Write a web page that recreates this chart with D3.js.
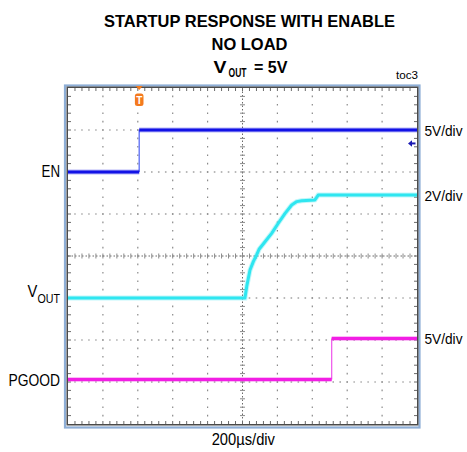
<!DOCTYPE html>
<html><head><meta charset="utf-8">
<script src="https://cdn.jsdelivr.net/npm/d3@7"></script>
<style>
body{margin:0;background:#fff}
svg{display:block}
text{font-family:"Liberation Sans",Arial,Helvetica,sans-serif;fill:#000}
</style>
</head><body>
<svg id="c" width="467" height="452"></svg>
<script>
// ---------------- data ----------------
const titleLines = ["STARTUP RESPONSE WITH ENABLE", "NO LOAD"];
const timeLabel = "200µs/div";
const timePerDiv = 200;          // µs per division
const xDivs = 10, yDivs = 8;
const triggerTime = 408;         // µs from left edge

const channelNames = ["EN", "V", "PGOOD"];
const channelSubs  = ["", "OUT", ""];
const scaleLabels  = ["5V/div", "2V/div", "5V/div"];
const voltsPerDiv  = [5, 2, 5];
const groundDiv    = [6, 3, 1.06];   // ground position of each channel (div from bottom)
const enTriggerLevel = 3.4;          // V

const enTime   = [0, 408, 408, 2000];
const enVolts  = [0, 0, 5, 5];
const voutTime  = [0, 1014, 1024, 1043, 1062, 1081, 1095, 1129, 1167, 1205, 1244, 1282, 1311, 1339, 1415, 1434, 2000];
const voutVolts = [0, 0, 0.54, 1.33, 1.73, 2.05, 2.32, 2.68, 3.08, 3.56, 4.03, 4.43, 4.59, 4.63, 4.67, 4.90, 4.90];
const pgoodTime  = [0, 1511, 1511, 2000];
const pgoodVolts = [0, 0, 4.88, 4.88];

// ---------------- layout ----------------
const svg = d3.select("#c");
const X0 = 68, X1 = 417, Y0 = 88, Y1 = 424;
const x  = d3.scaleLinear().domain([0, xDivs * timePerDiv]).range([X0, X1]);
const xd = d3.scaleLinear().domain([0, xDivs]).range([X0, X1]);
const yd = d3.scaleLinear().domain([0, yDivs]).range([Y1, Y0]);
const colors = ["#1212e6", "#2fe6f0", "#f21ee4"];
const stepColors = ["#5a6cf5", "#2fe6f0", "#f060ec"];

// title
const titleCx = 249.5;
const tl = svg.append("g").style("font-weight", "bold").style("font-size", "16.5px");
tl.append("text").attr("x", titleCx).attr("y", 27).attr("text-anchor", "middle")
  .attr("textLength", 291).attr("lengthAdjust", "spacingAndGlyphs").text(titleLines[0]);
tl.append("text").attr("x", titleCx).attr("y", 50).attr("text-anchor", "middle")
  .attr("textLength", 76).attr("lengthAdjust", "spacingAndGlyphs").text(titleLines[1]);
tl.append("text").attr("x", 213.5).attr("y", 73)
  .attr("textLength", 13).attr("lengthAdjust", "spacingAndGlyphs").text("V");
tl.append("text").attr("x", 228.5).attr("y", 77).style("font-size", "12px")
  .attr("textLength", 18).attr("lengthAdjust", "spacingAndGlyphs").text("OUT");
tl.append("text").attr("x", 254).attr("y", 73)
  .attr("textLength", 33.5).attr("lengthAdjust", "spacingAndGlyphs").text("= 5V");
svg.append("text").attr("x", 418).attr("y", 79).attr("text-anchor", "end")
  .style("font-size", "11px").attr("textLength", 22).attr("lengthAdjust", "spacingAndGlyphs").text("toc3");

// frame
svg.append("rect").attr("x", 65).attr("y", 85.5).attr("width", 354.5).attr("height", 342)
  .attr("fill", "none").attr("stroke", "#8eaed6").attr("stroke-width", 2.2);
svg.append("rect").attr("x", X0 - 0.75).attr("y", Y0 - 0.75).attr("width", X1 - X0 + 1.5).attr("height", Y1 - Y0 + 1.5)
  .attr("fill", "#fff").attr("stroke", "#4a4a4a").attr("stroke-width", 1.5);

const grid = svg.append("g");
const minorX = d3.range(0, xDivs * 5 + 1).map(i => i / 5);
const minorY = d3.range(0, yDivs * 5 + 1).map(i => i / 5);
const dotLen = 1.6;

// dotted major grid lines (dots at minor positions)
d3.range(1, xDivs).filter(i => i !== xDivs / 2).forEach(i => {
  grid.selectAll(null).data(minorY.slice(1, -1)).join("line")
    .attr("x1", xd(i)).attr("x2", xd(i))
    .attr("y1", d => yd(d) - dotLen / 2).attr("y2", d => yd(d) + dotLen / 2)
    .attr("stroke", "#8a8a8a").attr("stroke-width", 1.2);
});
d3.range(1, yDivs).filter(i => i !== yDivs / 2).forEach(i => {
  grid.selectAll(null).data(minorX.slice(1, -1)).join("line")
    .attr("y1", yd(i)).attr("y2", yd(i))
    .attr("x1", d => xd(d) - dotLen / 2).attr("x2", d => xd(d) + dotLen / 2)
    .attr("stroke", "#8a8a8a").attr("stroke-width", 1.2);
});

// center axes with minor ticks
const cx = xd(xDivs / 2), cy = yd(yDivs / 2);
grid.append("line").attr("x1", X0).attr("x2", X1).attr("y1", cy).attr("y2", cy)
  .attr("stroke", "#6a6a6a").attr("stroke-width", 1).attr("stroke-dasharray", "1.5,2");
grid.append("line").attr("y1", Y0).attr("y2", Y1).attr("x1", cx).attr("x2", cx)
  .attr("stroke", "#6a6a6a").attr("stroke-width", 1).attr("stroke-dasharray", "1.5,2");
grid.selectAll(null).data(minorX.slice(1, -1)).join("line")
  .attr("x1", d => xd(d)).attr("x2", d => xd(d)).attr("y1", cy - 2.5).attr("y2", cy + 2.5)
  .attr("stroke", "#8a8a8a").attr("stroke-width", 1);
grid.selectAll(null).data(minorY.slice(1, -1)).join("line")
  .attr("y1", d => yd(d)).attr("y2", d => yd(d)).attr("x1", cx - 2.5).attr("x2", cx + 2.5)
  .attr("stroke", "#8a8a8a").attr("stroke-width", 1);

// edge ticks
[[Y0, 1], [Y1, -1]].forEach(([yy, s]) => {
  grid.selectAll(null).data(minorX.slice(1, -1)).join("line")
    .attr("x1", d => xd(d)).attr("x2", d => xd(d)).attr("y1", yy).attr("y2", yy + s * 3)
    .attr("stroke", "#6a6a6a").attr("stroke-width", 1);
});
[[X0, 1], [X1, -1]].forEach(([xx, s]) => {
  grid.selectAll(null).data(minorY.slice(1, -1)).join("line")
    .attr("y1", d => yd(d)).attr("y2", d => yd(d)).attr("x1", xx).attr("x2", xx + s * 3)
    .attr("stroke", "#6a6a6a").attr("stroke-width", 1);
});

// traces
const series = [[enTime, enVolts], [voutTime, voutVolts], [pgoodTime, pgoodVolts]];
const yOf = (ch, v) => yd(groundDiv[ch] + v / voltsPerDiv[ch]);
const traces = svg.append("g");
series.forEach(([ts, vs], ch) => {
  const pts = ts.map((t, i) => ({ t, v: vs[i] }));
  const runs = [[pts[0]]], steps = [];
  for (let i = 1; i < pts.length; i++) {
    if (pts[i].t === pts[i - 1].t) { steps.push([pts[i - 1], pts[i]]); runs.push([pts[i]]); }
    else runs[runs.length - 1].push(pts[i]);
  }
  const line = d3.line().x(d => x(d.t)).y(d => yOf(ch, d.v));
  steps.forEach(s => {
    traces.append("path").attr("d", line(s)).attr("fill", "none")
      .attr("stroke", stepColors[ch]).attr("stroke-width", 1.3);
  });
  runs.filter(r => r.length > 1).forEach(r => {
    traces.append("path").attr("d", line(r)).attr("fill", "none")
      .attr("stroke", colors[ch]).attr("stroke-width", 5).attr("stroke-opacity", 0.3);
    traces.append("path").attr("d", line(r)).attr("fill", "none")
      .attr("stroke", colors[ch]).attr("stroke-width", 3).attr("stroke-linejoin", "round");
  });
});

// trigger marker (top)
const tx = x(triggerTime);
const trig = svg.append("g");
trig.append("path").attr("d", `M${tx - 3.5},${Y0 - 2}L${tx + 3.5},${Y0 - 2}L${tx},${Y0 + 2}Z`).attr("fill", "#f47a1e");
trig.append("rect").attr("x", tx - 4.3).attr("y", 93.5).attr("width", 8.6).attr("height", 12.5).attr("rx", 2.5)
  .attr("fill", "#f47a1e");
trig.append("text").attr("x", tx).attr("y", 103.5).attr("text-anchor", "middle")
  .style("font-size", "10px").style("font-weight", "bold").style("fill", "#fff").text("T");

// trigger level arrow (right)
const ty = yOf(0, enTriggerLevel);
const arr = svg.append("g").attr("fill", "#1a1ab4").attr("stroke", "#1a1ab4");
arr.append("line").attr("x1", X1 - 6).attr("x2", X1 - 1.5).attr("y1", ty).attr("y2", ty).attr("stroke-width", 2);
arr.append("path").attr("d", `M${X1 - 9},${ty}L${X1 - 5},${ty - 3.3}L${X1 - 5},${ty + 3.3}Z`).attr("stroke", "none");

// channel labels (left)
const lab = svg.append("g").style("font-size", "16px");
lab.append("text").attr("x", 60).attr("y", yOf(0, 0) + 4.5).attr("text-anchor", "end")
  .attr("textLength", 18.5).attr("lengthAdjust", "spacingAndGlyphs").text(channelNames[0]);
lab.append("text").attr("x", 27.5).attr("y", yOf(1, 0) - 1.5)
  .attr("textLength", 9.8).attr("lengthAdjust", "spacingAndGlyphs").text(channelNames[1]);
lab.append("text").attr("x", 37.5).attr("y", yOf(1, 0) + 5).style("font-size", "12px")
  .attr("textLength", 22.5).attr("lengthAdjust", "spacingAndGlyphs").text(channelSubs[1]);
lab.append("text").attr("x", 60).attr("y", yOf(2, 0) + 6.5).attr("text-anchor", "end")
  .attr("textLength", 51.5).attr("lengthAdjust", "spacingAndGlyphs").text(channelNames[2]);

// scale labels (right), aligned with each trace's final level
series.forEach(([ts, vs], ch) => {
  lab.append("text").attr("x", 424.5).attr("y", yOf(ch, vs[vs.length - 1]) + 5.5)
    .style("font-size", "15px")
    .attr("textLength", 38).attr("lengthAdjust", "spacingAndGlyphs").text(scaleLabels[ch]);
});

// time base
lab.append("text").attr("x", 243.3).attr("y", 445).attr("text-anchor", "middle")
  .attr("textLength", 63.3).attr("lengthAdjust", "spacingAndGlyphs").text(timeLabel);
</script>
</body></html>
